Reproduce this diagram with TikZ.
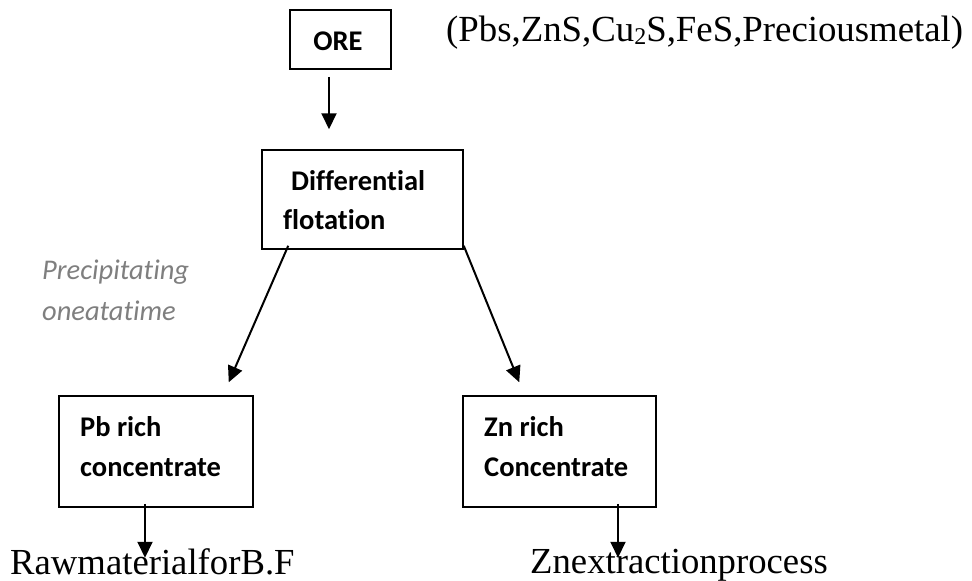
\documentclass[tikz,border=0pt]{standalone}
\usepackage{fontspec}
\setmainfont{Liberation Serif}
\newfontfamily\calfont[Ligatures=NoCommon]{Carlito}
\usetikzlibrary{arrows.meta,calc}
\definecolor{notegray}{HTML}{7F7F7F}
\tikzset{
  boxnode/.style={draw, line width=1.5pt, inner sep=0pt},
  boxtext/.style={anchor=base west, inner sep=0pt, font=\calfont\bfseries\fontsize{28.5}{34}\selectfont},
  notetext/.style={anchor=base west, inner sep=0pt, text=notegray, font=\calfont\itshape\fontsize{28.5}{34}\selectfont},
  serifbig/.style={anchor=base west, inner sep=0pt, font=\fontsize{36.7}{44}\selectfont},
  arr/.style={draw, line width=2pt, -{Triangle[length=16pt,width=15pt]}}
}
\begin{document}
\begin{tikzpicture}[x=1pt,y=-1pt]
\useasboundingbox (0,0) rectangle (972,581);
% boxes
\node[boxnode, minimum width=101pt, minimum height=59pt] (ore) at (340.5,39.5) {};
\node[boxnode, minimum width=201pt, minimum height=99pt] (flot) at (362.5,199.5) {};
\node[boxnode, minimum width=194pt, minimum height=111pt] (pb) at (156,451.5) {};
\node[boxnode, minimum width=193pt, minimum height=111pt] (zn) at (559.5,451.5) {};
% box texts
\node[boxtext, anchor=base] (oret) at (338,50) {ORE};
\node[boxtext] (flot1) at (291,190) {Differential};
\node[boxtext] (flot2) at (283,229) {flotation};
\node[boxtext] (pb1) at (80,436) {Pb rich};
\node[boxtext] (pb2) at (80,476) {concentrate};
\node[boxtext] (zn1) at (484,436) {Zn rich};
\node[boxtext] (zn2) at (484,476) {Concentrate};
% notes
\node[notetext] (note1) at (42,279) {Precipitating};
\node[notetext] (note2) at (42,320) {oneatatime};
\node[serifbig, font=\fontsize{36.8}{44}\selectfont] (comp) at (446,41) {(Pbs,ZnS,Cu\raisebox{-0.22ex}{\fontsize{24}{24}\selectfont 2}S,FeS,Preciousmetal)};
\node[serifbig] (raw) at (10,574) {RawmaterialforB.F};
\node[serifbig] (znx) at (530,573) {Znextractionprocess};
% connectors
\draw[arr] ([shift={(-11.5,7)}]ore.south) -- ([shift={(-33.5,-20)}]flot.north);
\draw[arr] ([shift={(27,-4)}]flot.south west) -- ([shift={(-25,-13)}]pb.north east);
\draw[arr] ([shift={(0,-4)}]flot.south east) -- ([shift={(57,-13)}]zn.north west);
\draw[arr] ([shift={(-11,-4)}]pb.south) -- ([shift={(-11,50)}]pb.south);
\draw[arr] ([shift={(58.5,-4)}]zn.south) -- ([shift={(58.5,50)}]zn.south);
\end{tikzpicture}
\end{document}
